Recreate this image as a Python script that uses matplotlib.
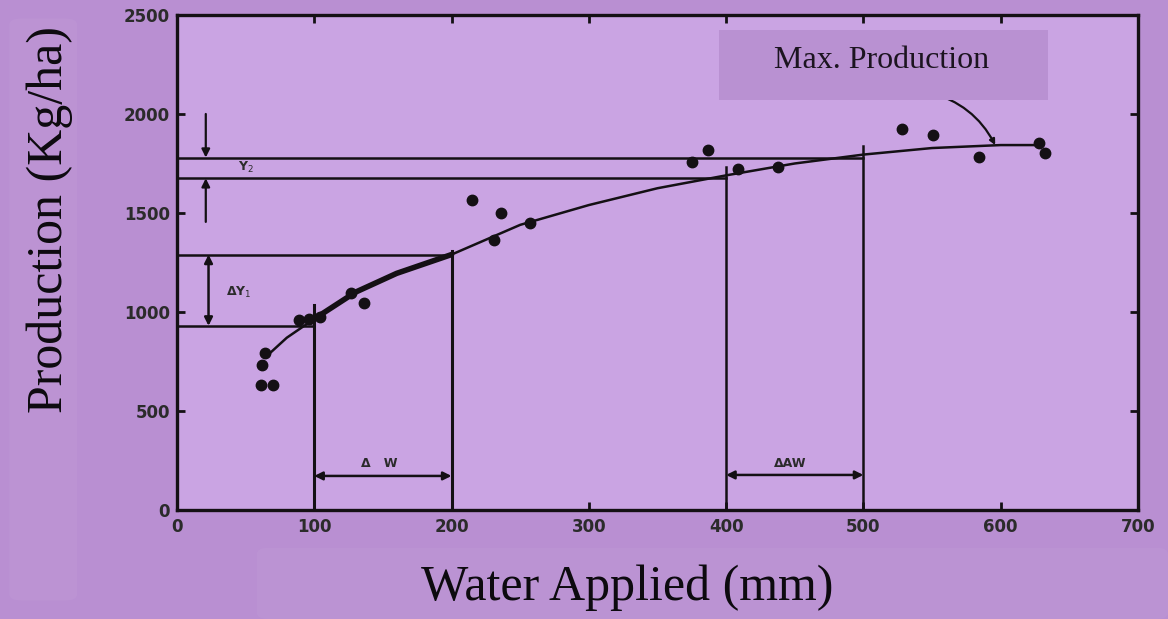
import matplotlib.pyplot as plt
from matplotlib.patches import Rectangle, FancyBboxPatch

# measured yield points (water applied mm, production kg/ha)
water_pts = [61, 64, 70, 62, 89, 96, 104, 127, 136, 215, 231, 236, 257,
             375, 387, 409, 438, 528, 551, 584, 628, 632]
prod_pts = [630, 793, 630, 732, 960, 965, 975, 1096, 1045, 1566, 1364, 1500, 1450,
            1758, 1818, 1722, 1732, 1924, 1894, 1783, 1853, 1803]

# fitted production function
curve_x = [65, 80, 100, 130, 160, 200, 250, 300, 350, 400, 450, 500, 550, 600, 628]
curve_y = [775, 870, 965, 1100, 1195, 1290, 1440, 1540, 1625, 1690, 1750, 1795, 1828, 1843, 1843]

# reference levels
y2_hi, y2_lo = 1780, 1675
y1_hi, y1_lo = 1290, 930

xticks = [0, 100, 200, 300, 400, 500, 600, 700]
yticks = [0, 500, 1000, 1500, 2000, 2500]

fig_bg = '#b98fd2'
plot_bg = '#caa4e3'
ink = '#141014'

fig = plt.figure(figsize=(11.68, 6.19), dpi=100, facecolor=fig_bg)

# soft panels behind the axis titles
fig.patches.append(FancyBboxPatch((0.008, 0.03), 0.058, 0.94, boxstyle='round,pad=0,rounding_size=0.01',
                                  transform=fig.transFigure, fc='white', ec='none', alpha=0.045))
fig.patches.append(FancyBboxPatch((0.22, 0.0), 0.78, 0.115, boxstyle='round,pad=0,rounding_size=0.01',
                                  transform=fig.transFigure, fc='white', ec='none', alpha=0.04))

ax = fig.add_axes([0.1515, 0.1761, 0.8228, 0.7997])
ax.set_facecolor(plot_bg)
ax.set_xlim(0, 700)
ax.set_ylim(0, 2500)

for s in ax.spines.values():
    s.set_linewidth(2.4)
    s.set_color(ink)

ax.set_xticks(xticks)
ax.set_yticks(yticks)
ax.tick_params(direction='in', length=6, width=2, top=True, right=True, color=ink,
               labelsize=12, labelcolor='#2b2b2b')
ax.tick_params(axis='x', pad=6)
ax.tick_params(axis='y', pad=5)
for lab in ax.get_xticklabels() + ax.get_yticklabels():
    lab.set_fontweight('bold')

# guide lines
ax.plot([0, 500], [y2_hi, y2_hi], color=ink, lw=1.8)
ax.plot([0, 400], [y2_lo, y2_lo], color=ink, lw=1.8)
ax.plot([0, 200], [y1_hi, y1_hi], color=ink, lw=1.8)
ax.plot([0, 100], [y1_lo, y1_lo], color=ink, lw=1.8)
ax.plot([100, 100], [0, 1035], color=ink, lw=2.2)
ax.plot([200, 200], [0, 1310], color=ink, lw=2.2)
ax.plot([400, 400], [0, 1732], color=ink, lw=1.8)
ax.plot([500, 500], [0, 1840], color=ink, lw=1.8)

# production curve, heavier over the 100-200 mm step
ax.plot(curve_x, curve_y, color=ink, lw=1.8)
seg = [i for i, v in enumerate(curve_x) if 100 <= v <= 200]
ax.plot([curve_x[i] for i in seg], [curve_y[i] for i in seg], color=ink, lw=4, solid_capstyle='round')

ax.plot(water_pts, prod_pts, 'o', color=ink, ms=7.5, zorder=5)

# dimension arrows
arr = dict(arrowstyle='-|>', color=ink, lw=1.6, mutation_scale=12, shrinkA=0, shrinkB=0)
arr2 = dict(arrowstyle='<|-|>', color=ink, lw=1.8, mutation_scale=12, shrinkA=0, shrinkB=0)
ax.annotate('', xy=(21, y2_hi), xytext=(21, 2000), arrowprops=arr)
ax.annotate('', xy=(21, y2_lo), xytext=(21, 1455), arrowprops=arr)
ax.annotate('', xy=(23, y1_lo), xytext=(23, y1_hi), arrowprops=arr2)
ax.annotate('', xy=(100, 172), xytext=(200, 172), arrowprops=arr2)
ax.annotate('', xy=(400, 177), xytext=(500, 177), arrowprops=arr2)

lab_kw = dict(fontsize=9, fontweight='bold', color='#2b2b2b', ha='center', va='center')
ax.text(50, 1728, 'Y$_2$', **lab_kw)
ax.text(45, 1100, 'ΔY$_1$', **lab_kw)
ax.text(147, 237, 'Δ   W', **lab_kw)
ax.text(447, 237, 'ΔAW', **lab_kw)

# pointer to the maximum
ax.annotate('', xy=(596, 1843), xytext=(548, 2110),
            arrowprops=dict(arrowstyle='-|>', color=ink, lw=1.6, mutation_scale=8,
                            connectionstyle='arc3,rad=-0.22', shrinkA=0, shrinkB=0))

# caption box
fig.patches.append(Rectangle((0.616, 0.838), 0.281, 0.113, transform=fig.transFigure,
                             fc='#b991d2', ec='none', zorder=10))
fig.text(0.755, 0.903, 'Max. Production', fontsize=23, family='Liberation Serif',
         color='#1c1420', ha='center', va='center', zorder=11)

fig.text(0.043, 0.645, 'Production (Kg/ha)', rotation=90, fontsize=36, family='Liberation Serif',
         color='#0d0a0f', ha='center', va='center')
fig.text(0.537, 0.05, 'Water Applied (mm)', fontsize=36, family='Liberation Serif',
         color='#0d0a0f', ha='center', va='center')

fig.savefig('out.png', dpi=100, facecolor=fig_bg)
